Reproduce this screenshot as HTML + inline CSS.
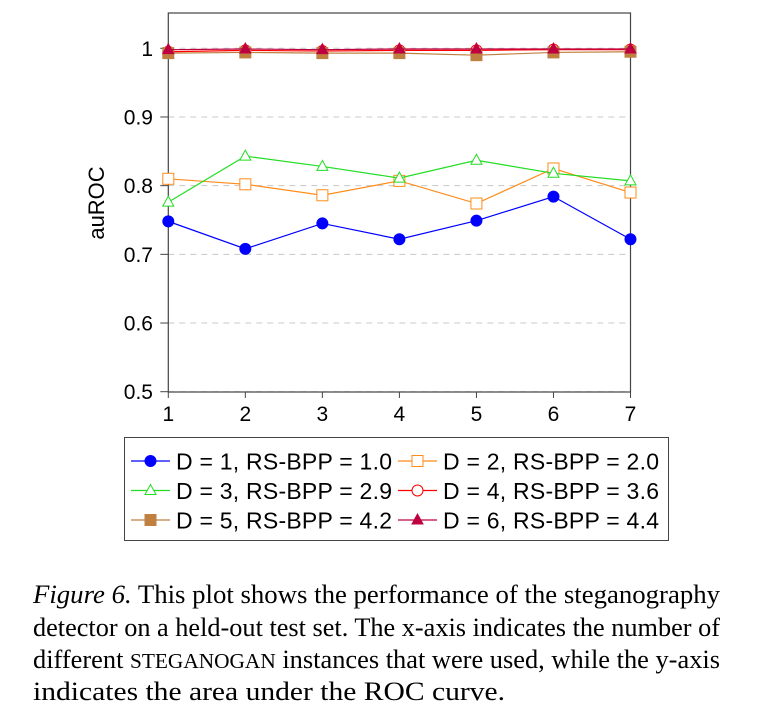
<!DOCTYPE html>
<html><head><meta charset="utf-8"><style>
body{margin:0;background:#fff;width:759px;height:719px;overflow:hidden;position:relative}
svg{position:absolute;left:0;top:0}
.cap{position:absolute;left:33px;display:inline-block;font-family:"Liberation Serif",serif;font-size:26px;white-space:nowrap;line-height:32px;transform-origin:0 0}
</style></head><body>
<svg id="chart" width="759" height="560" font-family="Liberation Sans, sans-serif"></svg>
<div class="cap" data-fit="687" style="top:579px"><i>Figure 6.</i> This plot shows the performance of the steganography</div>
<div class="cap" data-fit="687" style="top:612px">detector on a held-out test set. The x-axis indicates the number of</div>
<div class="cap" data-fit="687" style="top:644px">different <span style="font-size:21px">STEGANOGAN</span> instances that were used, while the y-axis</div>
<div class="cap" data-fit="472" style="top:676px">indicates the area under the ROC curve.</div>
<script>
document.querySelectorAll('.cap').forEach(d=>{const w=d.getBoundingClientRect().width;d.style.transform='scaleX('+(+d.dataset.fit/w)+')';});
const categories=[1,2,3,4,5,6,7];
const yTicks=[0.5,0.6,0.7,0.8,0.9,1];
const yTickLabels=["0.5","0.6","0.7","0.8","0.9","1"];
const d1=[0.748,0.708,0.745,0.722,0.749,0.784,0.722];
const d2=[0.810,0.802,0.786,0.807,0.774,0.825,0.790];
const d3=[0.776,0.843,0.828,0.811,0.837,0.818,0.807];
const d4=[0.995,0.997,0.996,0.997,0.997,0.998,0.998];
const d5=[0.993,0.994,0.993,0.993,0.990,0.994,0.995];
const d6=[0.998,0.999,0.998,0.999,0.999,0.999,0.999];
const labels=["D = 1, RS-BPP = 1.0","D = 2, RS-BPP = 2.0","D = 3, RS-BPP = 2.9","D = 4, RS-BPP = 3.6","D = 5, RS-BPP = 4.2","D = 6, RS-BPP = 4.4"];
const series=[
 {v:d1,c:"#0000ff",m:"circle",f:true},
 {v:d2,c:"#ff8c1a",m:"square",f:false},
 {v:d3,c:"#22dd22",m:"tri",f:false},
 {v:d4,c:"#ff0000",m:"circle",f:false},
 {v:d5,c:"#bf8040",m:"square",f:true},
 {v:d6,c:"#bf0040",m:"tri",f:true}];
const L=168.3,R=630.5,T=13,B=392;
const X=v=>L+(v-1)*(R-L)/6;
const Y=v=>391.7-(v-0.5)*686.8;
const svg=document.getElementById('chart');
const NS="http://www.w3.org/2000/svg";
function el(t,a,p){const e=document.createElementNS(NS,t);for(const k in a)e.setAttribute(k,a[k]);(p||svg).appendChild(e);return e;}
yTicks.forEach((t,i)=>{
 const g=el('line',{x1:L,x2:R,y1:Y(t),y2:Y(t),stroke:"#c8c8c8","stroke-dasharray":"6,5"});
 
 el('line',{x1:L-8,x2:L,y1:Y(t),y2:Y(t),stroke:"#444"});
 const tx=el('text',{x:153,y:Y(t)+7.5,"text-anchor":"end","font-size":21});tx.textContent=yTickLabels[i];
 
});
categories.forEach(c=>{
 el('line',{x1:X(c),x2:X(c),y1:B,y2:B+6,stroke:"#444"});
 const tx=el('text',{x:X(c),y:B+29,"text-anchor":"middle","font-size":21});tx.textContent=c;
 
});
const fr=el('rect',{x:L,y:T,width:R-L,height:B-T,fill:"none",stroke:"#444","stroke-width":1.2});

const yl=el('text',{x:0,y:0,transform:"translate(104,203) rotate(-90)","text-anchor":"middle","font-size":22});yl.textContent="auROC";

function marker(m,x,y,c,f,g){
 const a={stroke:c,fill:f?c:"#fff","stroke-width":1};
 if(m==="circle")return el('circle',Object.assign({cx:x,cy:y,r:5.5},a),g);
 if(m==="square")return el('rect',Object.assign({x:x-5.5,y:y-5.5,width:11,height:11},a),g);
 return el('polygon',Object.assign({points:`${x},${y-6} ${x-5.5},${y+4} ${x+5.5},${y+4}`},a),g);
}
series.forEach((s,i)=>{
 const g=el('g',{});
 el('polyline',{points:s.v.map((v,j)=>X(categories[j])+","+Y(v)).join(" "),fill:"none",stroke:s.c,"stroke-width":1.2},g);
 s.v.forEach((v,j)=>{const p=marker(s.m,X(categories[j]),Y(v),s.c,s.f,g);});
});
const lg=el('g',{});
el('rect',{x:124.5,y:437.5,width:544,height:103,fill:"#fff",stroke:"#444"},lg);
series.forEach((s,i)=>{
 const col=i%2,row=Math.floor(i/2);
 const x0=col?398:131,y0=461+row*29.5;
 const e=el('g',{},lg);
 el('line',{x1:x0,x2:x0+39,y1:y0,y2:y0,stroke:s.c,"stroke-width":1.2},e);
 marker(s.m,x0+19.5,y0,s.c,s.f,e);
 const t=el('text',{x:x0+45,y:y0+8.5,"font-size":23,textLength:216},e);t.textContent=labels[i];
});
</script>
</body></html>
